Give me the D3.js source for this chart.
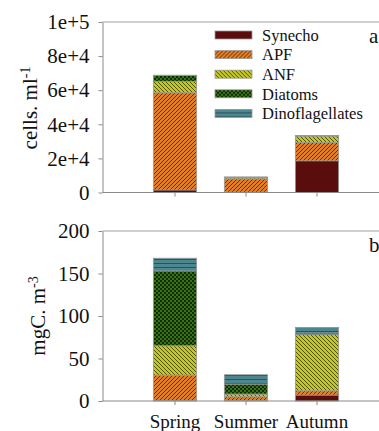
<!DOCTYPE html>
<html>
<head>
<meta charset="utf-8">
<script src="https://cdn.jsdelivr.net/npm/d3@7"></script>
<style>
  body { margin: 0; background: #fff; }
</style>
</head>
<body>
<div id="chart"></div>
<script>
// seasons and groups
const seasons = ["Spring", "Summer", "Autumn"];
const groups = ["Synecho", "APF", "ANF", "Diatoms", "Dinoflagellates"];

// panel a: abundance, cells ml-1
const cellSynecho = [1500, 200, 18600];
const cellAPF = [57000, 7800, 10800];
const cellANF = [6700, 700, 3700];
const cellDiatoms = [3400, 300, 200];
const cellDino = [200, 100, 100];

// panel b: biomass, mgC m-3
const carbSynecho = [0.5, 0.4, 7];
const carbAPF = [30, 4.5, 5];
const carbANF = [34.5, 3.3, 66];
const carbDiatoms = [88, 11.7, 2];
const carbDino = [15, 11, 6.6];

const ticksA = [0, 20000, 40000, 60000, 80000, 100000];
const tickLabelsA = ["0", "2e+4", "4e+4", "6e+4", "8e+4", "1e+5"];
const ticksB = [0, 50, 100, 150, 200];

const FONT = '"Liberation Serif", "Times New Roman", serif';
const W = 379, H = 431;
const svg = d3.select("#chart").append("svg").attr("width", W).attr("height", H);

// fill patterns
const defs = svg.append("defs");
let p = defs.append("pattern").attr("id", "pAPF").attr("patternUnits", "userSpaceOnUse")
    .attr("width", 4).attr("height", 4);
p.append("rect").attr("width", 4).attr("height", 4).attr("fill", "#e27f26");
p.append("path").attr("d", "M-1,1 l2,-2 M0,4 l4,-4 M3,5 l2,-2").attr("stroke", "#643210").attr("stroke-width", 1);

p = defs.append("pattern").attr("id", "pANF").attr("patternUnits", "userSpaceOnUse")
    .attr("width", 4).attr("height", 4);
p.append("rect").attr("width", 4).attr("height", 4).attr("fill", "#c6c620");
p.append("path").attr("d", "M-1,3 l2,2 M0,0 l4,4 M3,-1 l2,2").attr("stroke", "#4c520a").attr("stroke-width", 1);

p = defs.append("pattern").attr("id", "pDia").attr("patternUnits", "userSpaceOnUse")
    .attr("width", 4).attr("height", 4);
p.append("rect").attr("width", 4).attr("height", 4).attr("fill", "#367416");
p.append("rect").attr("width", 2).attr("height", 2).attr("fill", "#132c07");
p.append("rect").attr("x", 2).attr("y", 2).attr("width", 2).attr("height", 2).attr("fill", "#132c07");

p = defs.append("pattern").attr("id", "pDino").attr("patternUnits", "userSpaceOnUse")
    .attr("width", 4).attr("height", 4);
p.append("rect").attr("width", 4).attr("height", 4).attr("fill", "#4c868e");
p.append("rect").attr("y", 3).attr("width", 4).attr("height", 1).attr("fill", "#2a535c");

const fills = {
  Synecho: "#5a0d0d",
  APF: "url(#pAPF)",
  ANF: "url(#pANF)",
  Diatoms: "url(#pDia)",
  Dinoflagellates: "url(#pDino)"
};

const x = d3.scaleBand().domain(seasons).range([139.5, 352.5])
    .paddingInner(0.39).paddingOuter(0.195);

const axisX0 = 102.5, axisX1 = 379;

function rows(a, b, c, d, e) {
  return seasons.map((s, i) => ({
    season: s, Synecho: a[i], APF: b[i], ANF: c[i], Diatoms: d[i], Dinoflagellates: e[i]
  }));
}

function panel(data, yTop, yBot, max, ticks, tickFmt, title, sup, titleX, titleY, tag, showCats) {
  const y = d3.scaleLinear().domain([0, max]).range([yBot, yTop]);
  const g = svg.append("g");

  // frame line on top
  g.append("line").attr("x1", axisX0).attr("x2", axisX1).attr("y1", yTop).attr("y2", yTop)
    .attr("stroke", "#a0a0a0").attr("stroke-width", 1);

  const stack = d3.stack().keys(groups)(data);
  g.selectAll("g.layer").data(stack).join("g")
    .attr("fill", d => fills[d.key])
    .selectAll("rect").data(d => d).join("rect")
    .attr("x", d => x(d.data.season))
    .attr("width", x.bandwidth())
    .attr("y", d => y(d[1]))
    .attr("height", d => y(d[0]) - y(d[1]))
    .attr("stroke", "#9a9a9a").attr("stroke-width", 0.8);

  // y axis
  const ya = g.append("g").attr("transform", `translate(${axisX0},0)`)
    .call(d3.axisLeft(y).tickValues(ticks).tickFormat(tickFmt).tickSize(4).tickSizeOuter(0).tickPadding(9));
  ya.select(".domain").attr("stroke", "#8a8a8a");
  ya.selectAll(".tick line").attr("stroke", "#8a8a8a");
  ya.selectAll("text").style("font-family", FONT).style("font-size", "21px").attr("fill", "#111");

  // x axis
  g.append("line").attr("x1", axisX0).attr("x2", axisX1).attr("y1", yBot).attr("y2", yBot)
    .attr("stroke", "#8a8a8a").attr("stroke-width", 1);
  const xa = g.append("g").attr("transform", `translate(0,${yBot})`)
    .call(d3.axisBottom(x).tickSize(4).tickSizeOuter(0).tickPadding(10)
      .tickFormat(showCats ? (d => d) : () => ""));
  xa.select(".domain").remove();
  xa.selectAll(".tick line").attr("stroke", "#8a8a8a");
  xa.selectAll("text").style("font-family", FONT).style("font-size", "19px").attr("fill", "#111");

  // axis title
  const t = g.append("text").attr("transform", `translate(${titleX},${titleY}) rotate(-90)`)
    .attr("text-anchor", "middle").attr("fill", "#111")
    .style("font-family", FONT).style("font-size", "21px");
  t.append("tspan").text(title);
  t.append("tspan").attr("baseline-shift", "super").style("font-size", "14px").text(sup);

  // panel tag
  g.append("text").attr("x", 369).attr("y", yTop + 21).attr("fill", "#111")
    .style("font-family", FONT).style("font-size", "21px").text(tag);
  return y;
}

panel(rows(cellSynecho, cellAPF, cellANF, cellDiatoms, cellDino), 22, 192.5, 100000,
  ticksA, (d, i) => tickLabelsA[i], "cells. ml", "-1", 37, 108, "a", false);
panel(rows(carbSynecho, carbAPF, carbANF, carbDiatoms, carbDino), 231, 401, 200,
  ticksB, d3.format("d"), "mgC. m", "-3", 45, 316, "b", true);

// legend
const lg = svg.append("g").attr("transform", "translate(215,35)");
const items = lg.selectAll("g").data(groups).join("g")
  .attr("transform", (d, i) => `translate(0,${i * 19.6})`);
items.append("rect").attr("x", 0).attr("y", -4).attr("width", 37).attr("height", 8)
  .attr("fill", d => fills[d]).attr("stroke", "#9a9a9a").attr("stroke-width", 0.8);
items.append("text").attr("x", 47).attr("y", 0).attr("dy", "0.35em").attr("fill", "#111")
  .style("font-family", FONT).style("font-size", "16.5px").text(d => d);
</script>
</body>
</html>
